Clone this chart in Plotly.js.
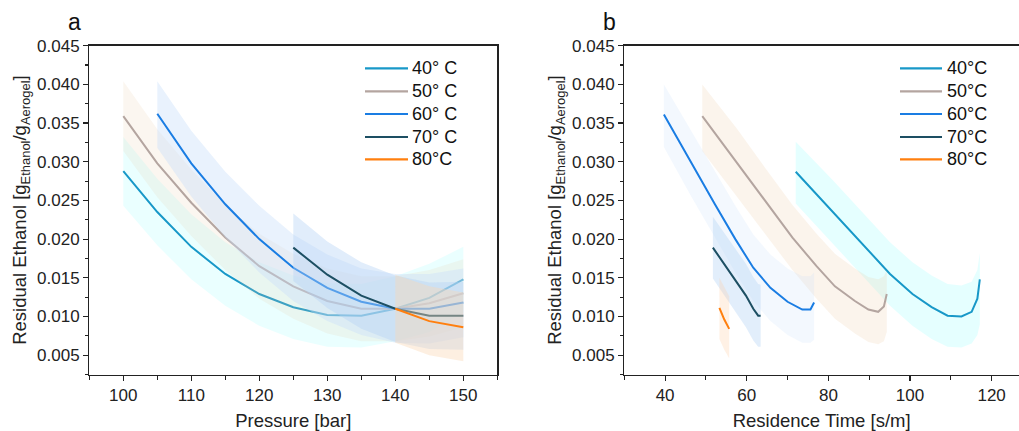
<!DOCTYPE html>
<html>
<head>
<meta charset="utf-8">
<script src="https://cdn.plot.ly/plotly-3.0.1.min.js"></script>
<style>html,body{margin:0;padding:0;background:#fff;}#chart{width:1019px;height:431px;}</style>
</head>
<body>
<div id="chart"></div>
<script>
// ---------- Data ----------
const seriesNames = ['40° C', '50° C', '60° C', '70° C', '80°C'];
const seriesNamesB = ['40°C', '50°C', '60°C', '70°C', '80°C'];

// Panel a: Pressure [bar]
const p40 = [100, 105, 110, 115, 120, 125, 130, 135, 140, 145, 150];
const a40 = [0.0288, 0.0235, 0.0190, 0.0155, 0.0129, 0.0112, 0.0102, 0.0101, 0.0110, 0.0124, 0.0148];
const a40Up = [0.0332, 0.0278, 0.0232, 0.0196, 0.0170, 0.0153, 0.0143, 0.0142, 0.0152, 0.0168, 0.0190];
const a40Lo = [0.0243, 0.0192, 0.0148, 0.0114, 0.0088, 0.0071, 0.0061, 0.0060, 0.0068, 0.0080, 0.0105];

const p50 = [100, 105, 110, 115, 120, 125, 130, 135, 140, 145, 150];
const a50 = [0.0359, 0.0298, 0.0247, 0.0202, 0.0165, 0.0139, 0.0120, 0.0110, 0.0110, 0.0117, 0.0130];
const a50Up = [0.0404, 0.0342, 0.0290, 0.0244, 0.0207, 0.0181, 0.0162, 0.0152, 0.0152, 0.0160, 0.0174];
const a50Lo = [0.0314, 0.0254, 0.0204, 0.0160, 0.0123, 0.0097, 0.0078, 0.0068, 0.0068, 0.0074, 0.0086];

const p60 = [105, 110, 115, 120, 125, 130, 135, 140, 145, 150];
const a60 = [0.0362, 0.0298, 0.0245, 0.0200, 0.0163, 0.0137, 0.0119, 0.0110, 0.0110, 0.0118];
const a60Up = [0.0404, 0.0340, 0.0287, 0.0243, 0.0206, 0.0180, 0.0162, 0.0155, 0.0155, 0.0162];
const a60Lo = [0.0318, 0.0255, 0.0202, 0.0157, 0.0120, 0.0094, 0.0076, 0.0066, 0.0065, 0.0073];

const p70 = [125, 130, 135, 140, 145, 150];
const a70 = [0.0189, 0.0154, 0.0127, 0.0110, 0.0101, 0.0101];
const a70Up = [0.0233, 0.0197, 0.0170, 0.0153, 0.0144, 0.0145];
const a70Lo = [0.0146, 0.0111, 0.0084, 0.0067, 0.0058, 0.0057];

const p80 = [140, 145, 150];
const a80 = [0.0110, 0.0094, 0.0086];
const a80Up = [0.0154, 0.0139, 0.0131];
const a80Lo = [0.0066, 0.0050, 0.0042];

// Panel b: Residence Time [s/m]
const t40 = [72.0, 81.1, 89.0, 95.1, 100.6, 105.3, 109.2, 112.6, 115.1, 116.5, 117.1];
const b40 = [0.0287, 0.0235, 0.0190, 0.0155, 0.0129, 0.0112, 0.0101, 0.0100, 0.0106, 0.0123, 0.0148];
const b40Up = [0.0326, 0.0276, 0.0231, 0.0196, 0.0170, 0.0153, 0.0142, 0.0140, 0.0145, 0.0160, 0.0182];
const b40Lo = [0.0246, 0.0194, 0.0149, 0.0114, 0.0088, 0.0071, 0.0061, 0.0060, 0.0065, 0.0076, 0.0090];

const t50 = [49.1, 57.7, 64.8, 71.2, 77.1, 81.6, 86.5, 89.8, 92.2, 93.6, 94.3];
const b50 = [0.0359, 0.0298, 0.0247, 0.0202, 0.0165, 0.0139, 0.0120, 0.0109, 0.0106, 0.0113, 0.0129];
const b50Up = [0.0400, 0.0342, 0.0290, 0.0244, 0.0207, 0.0181, 0.0162, 0.0151, 0.0148, 0.0152, 0.0160];
const b50Lo = [0.0314, 0.0254, 0.0204, 0.0160, 0.0123, 0.0097, 0.0078, 0.0067, 0.0064, 0.0068, 0.0080];

const t60 = [39.7, 46.4, 52.2, 57.2, 61.6, 65.8, 70.0, 73.6, 75.6, 76.5];
const b60 = [0.0361, 0.0298, 0.0245, 0.0200, 0.0163, 0.0137, 0.0119, 0.0109, 0.0109, 0.0118];
const b60Up = [0.0400, 0.0340, 0.0287, 0.0243, 0.0206, 0.0180, 0.0162, 0.0152, 0.0152, 0.0157];
const b60Lo = [0.0319, 0.0255, 0.0202, 0.0157, 0.0120, 0.0094, 0.0076, 0.0066, 0.0066, 0.0070];

const t70 = [51.7, 56.3, 59.8, 61.6, 62.8, 63.4];
const b70 = [0.0189, 0.0154, 0.0127, 0.0110, 0.0101, 0.0101];
const b70Up = [0.0229, 0.0195, 0.0168, 0.0151, 0.0142, 0.0141];
const b70Lo = [0.0149, 0.0113, 0.0086, 0.0069, 0.0061, 0.0061];

const t80 = [53.3, 54.5, 55.7];
const b80 = [0.0111, 0.0096, 0.0084];
const b80Up = [0.0150, 0.0137, 0.0126];
const b80Lo = [0.0071, 0.0057, 0.0046];

// ---------- Styles ----------
const lineColors = ['#1898c8', '#b4a5a0', '#1a7de3', '#1d4f63', '#ff7f0e'];
const bandColorsA = ['rgba(170,255,255,0.25)', 'rgba(235,205,170,0.18)', 'rgba(200,222,250,0.40)', 'rgba(180,210,245,0.40)', 'rgba(250,215,180,0.40)'];
const bandColorsB = ['rgba(160,255,255,0.28)', 'rgba(235,205,170,0.22)', 'rgba(200,222,250,0.22)', 'rgba(180,210,245,0.38)', 'rgba(255,205,160,0.28)'];

const panelA = [[p40, a40, a40Up, a40Lo], [p50, a50, a50Up, a50Lo], [p60, a60, a60Up, a60Lo], [p70, a70, a70Up, a70Lo], [p80, a80, a80Up, a80Lo]];
const panelB = [[t40, b40, b40Up, b40Lo], [t50, b50, b50Up, b50Lo], [t60, b60, b60Up, b60Lo], [t70, b70, b70Up, b70Lo], [t80, b80, b80Up, b80Lo]];

const traces = [];
function addPanel(panel, xa, ya, names, bandColors) {
  panel.forEach((s, i) => {
    const [x, y, up, lo] = s;
    traces.push({
      type: 'scatter', mode: 'lines', xaxis: xa, yaxis: ya,
      x: x.concat(x.slice().reverse()),
      y: up.concat(lo.slice().reverse()),
      fill: 'toself', fillcolor: bandColors[i],
      line: {width: 0, color: 'rgba(0,0,0,0)'},
      hoverinfo: 'skip', showlegend: false
    });
    traces.push({
      type: 'scatter', mode: 'lines', xaxis: xa, yaxis: ya,
      x: x, y: y, name: names[i],
      line: {color: lineColors[i], width: 2},
      showlegend: false
    });
  });
}
addPanel(panelA, 'x', 'y', seriesNames, bandColorsA);
addPanel(panelB, 'x2', 'y2', seriesNamesB, bandColorsB);

// ---------- Layout ----------
const W = 1019, H = 431;
const px = v => v / W;
const py = v => 1 - v / H;
const FONT = 'Liberation Sans, Arial, sans-serif';

const axisCommon = {
  showline: true, linecolor: '#222', linewidth: 1.3,
  ticks: 'outside', ticklen: 5, tickwidth: 1.2, tickcolor: '#222',
  showgrid: false, zeroline: false,
  tickfont: {family: FONT, size: 17, color: '#222'}
};
const yCommon = Object.assign({}, axisCommon, {
  range: [0.0025, 0.045], tick0: 0.005, dtick: 0.005, tickformat: '.3f',
  minor: {dtick: 0.0025, ticks: 'outside', ticklen: 3, tickwidth: 1.1, tickcolor: '#222', showgrid: false},
  domain: [py(374.5), py(45.7)],
  title: {text: 'Residual Ethanol [g<sub>Ethanol</sub>/g<sub>Aerogel</sub>]', font: {family: FONT, size: 18.5, color: '#222'}, standoff: 5}
});

const shapes = [];
const annotations = [];
function addLegend(names, x0, x1, xt) {
  const rows = [68.3, 91.3, 114, 137, 159.3];
  names.forEach((n, i) => {
    shapes.push({type: 'line', xref: 'paper', yref: 'paper', x0: px(x0), x1: px(x1), y0: py(rows[i]), y1: py(rows[i]),
      line: {color: lineColors[i], width: 2.2}});
    annotations.push({xref: 'paper', yref: 'paper', x: px(xt), y: py(rows[i]), xanchor: 'left', yanchor: 'middle',
      text: n, showarrow: false, font: {family: FONT, size: 18, color: '#111'}});
  });
}
addLegend(seriesNames, 365, 408, 410);
addLegend(seriesNamesB, 900, 942, 945);

annotations.push({xref: 'paper', yref: 'paper', x: px(74.5), y: py(22), xanchor: 'center', yanchor: 'middle',
  text: 'a', showarrow: false, font: {family: FONT, size: 23, color: '#111'}});
annotations.push({xref: 'paper', yref: 'paper', x: px(609.5), y: py(22), xanchor: 'center', yanchor: 'middle',
  text: 'b', showarrow: false, font: {family: FONT, size: 23, color: '#111'}});

const layout = {
  width: W, height: H,
  margin: {l: 0, r: 0, t: 0, b: 0, pad: 0},
  paper_bgcolor: '#fff', plot_bgcolor: '#fff',
  showlegend: false,
  font: {family: FONT, color: '#222'},
  xaxis: Object.assign({}, axisCommon, {
    range: [95, 155], dtick: 10, tick0: 100, mirror: true,
    minor: {dtick: 5, ticks: 'outside', ticklen: 4, tickwidth: 1.1, tickcolor: '#222', showgrid: false},
    domain: [px(89.3), px(497.3)], anchor: 'y',
    title: {text: 'Pressure [bar]', font: {family: FONT, size: 18.5, color: '#222'}, standoff: 15}
  }),
  yaxis: Object.assign({}, yCommon, {anchor: 'x', mirror: true}),
  xaxis2: Object.assign({}, axisCommon, {
    range: [30, 126.7], dtick: 20, tick0: 40, mirror: true,
    minor: {dtick: 10, ticks: 'outside', ticklen: 4, tickwidth: 1.1, tickcolor: '#222', showgrid: false},
    domain: [px(624.3), 1], anchor: 'y2',
    title: {text: 'Residence Time [s/m]', font: {family: FONT, size: 18.5, color: '#222'}, standoff: 15}
  }),
  yaxis2: Object.assign({}, yCommon, {anchor: 'x2', mirror: false}),
  shapes: shapes,
  annotations: annotations
};

Plotly.newPlot('chart', traces, layout, {staticPlot: true, displayModeBar: false});
</script>
</body>
</html>
